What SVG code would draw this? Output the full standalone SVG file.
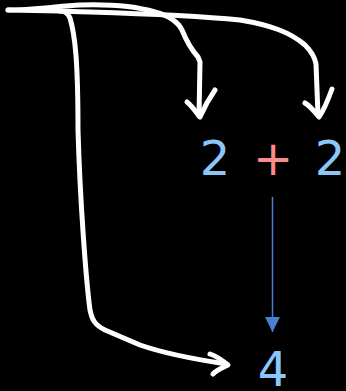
<svg xmlns="http://www.w3.org/2000/svg" width="346" height="391" viewBox="0 0 346 391">
<style>
.hand{fill:none;stroke:#fff;stroke-width:5;stroke-linecap:round;stroke-linejoin:round}
.num{font-family:"DejaVu Sans",sans-serif;font-size:48px;fill:#8cc6f7;text-anchor:middle}
.op{font-family:"DejaVu Sans",sans-serif;font-size:48px;fill:#ff8a8a;text-anchor:middle}
</style>
<defs>
<marker id="tri" markerWidth="16" markerHeight="16" refX="8" refY="15" orient="0" markerUnits="userSpaceOnUse">
<path d="M0.5,0 L15.5,0 L8,15 Z" fill="#4a7fd4"/>
</marker>
</defs>
<rect width="346" height="391" fill="#000"/>
<g id="connectors">
<path class="hand" d="M8,10 L60,11 C64,11 68,13 70,18 C75,35 78,60 78,130 C80,200 86,280 90,310 C92,320 95,325 105,330 L140,345 C160,352 180,357 226,364"/>
<path class="hand" d="M210,354 C216,356 222,360 228,365 C222,368 216,370 213,374"/>
<path class="hand" d="M8,10 C30,10 60,6 80,5 C110,4 135,6 155,12 C170,16 178,22 182,30 C186,40 190,48 198,57 L200,62 L199,116"/>
<path class="hand" d="M187,102 C192,106 196,112 200,117 C203,110 208,100 215,90"/>
<path class="hand" d="M60,11 C120,13 180,14 240,20 C270,25 290,32 305,45 C312,52 315,58 316,64 L318,115"/>
<path class="hand" d="M305,103 C310,106 315,112 319,117 C324,110 328,100 332,89"/>
<line x1="272.5" y1="197" x2="272.5" y2="332" stroke="#4a7fd4" stroke-width="1.5" marker-end="url(#tri)"/>
</g>
<g id="n-two-left"><text class="num" x="215" y="175">2</text></g>
<g id="n-plus"><text class="op" x="273" y="175">+</text></g>
<g id="n-two-right"><text class="num" x="330" y="175">2</text></g>
<g id="n-four"><text class="num" x="273" y="386">4</text></g>
</svg>
